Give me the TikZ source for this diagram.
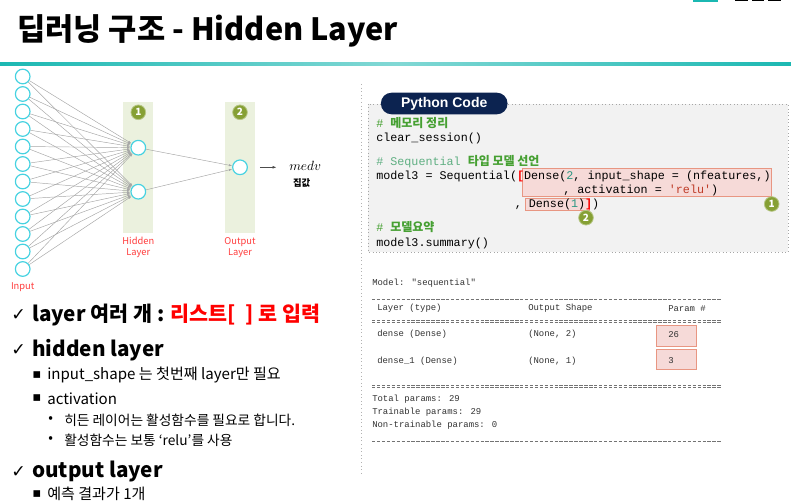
\documentclass[tikz,border=0pt]{standalone}
\usepackage{fontspec}
\setmainfont{Noto Sans CJK KR}
\newfontfamily\codefont{Liberation Mono}[Ligatures=TeXOff]
\newfontfamily\tabfont{Liberation Sans}
\newfontfamily\symfont{DejaVu Sans}
\usetikzlibrary{arrows.meta,positioning}

\definecolor{teal1}{RGB}{27,184,178}
\definecolor{nodecyan}{RGB}{70,210,225}
\definecolor{layerbg}{RGB}{235,241,222}
\definecolor{badge}{RGB}{134,160,52}
\definecolor{lblred}{RGB}{255,60,60}
\definecolor{navy}{RGB}{12,35,80}
\definecolor{codebg}{RGB}{242,242,242}
\definecolor{cmt}{RGB}{70,160,50}
\definecolor{cmtlt}{RGB}{95,175,130}
\definecolor{num}{RGB}{40,150,130}
\definecolor{str}{RGB}{190,60,40}
\definecolor{hlfill}{RGB}{246,218,216}
\definecolor{hlline}{RGB}{232,150,130}
\definecolor{sumgray}{RGB}{50,50,50}
\definecolor{redtxt}{RGB}{255,0,0}

\newcommand{\kc}[1]{{\rmfamily\bfseries\fontsize{9}{10}\selectfont\color{cmt}#1}}

\begin{document}
\begin{tikzpicture}[
  x=0.75pt, y=-0.75pt,
  neuron/.style={circle, draw=nodecyan, fill=white, line width=0.9pt,
    minimum size=11pt, inner sep=0pt},
  layerbox/.style={fill=layerbg, draw=none},
  badgenum/.style={circle, fill=badge, draw=badge!60!white, line width=0.6pt,
    minimum size=11pt, inner sep=0pt, text=white,
    font=\bfseries\fontsize{7.5}{8}\selectfont},
  layerlbl/.style={text=lblred, font=\fontsize{7}{8.5}\selectfont, align=center},
  wire/.style={draw=black!35, line width=0.35pt, -{Latex[length=2.5pt,width=1.6pt]}},
  code/.style={anchor=west, inner sep=0pt, font=\codefont\fontsize{8.8}{10}\selectfont},
  sumline/.style={anchor=west, inner sep=0pt, text=sumgray,
    font=\codefont\fontsize{6.7}{8}\selectfont},
  hlbox/.style={fill=hlfill, draw=hlline, line width=0.6pt},
  dashrule/.style={draw=black!55, line width=0.4pt, dash pattern=on 2.6pt off 1.1pt},
  chk/.style={anchor=west, inner sep=0pt, font=\symfont\fontsize{13}{15}\selectfont},
  head/.style={anchor=west, inner sep=0pt, font=\bfseries\fontsize{15.5}{18}\selectfont},
  sqb/.style={anchor=west, inner sep=0pt, font=\symfont\fontsize{10}{12}\selectfont},
  sub/.style={anchor=west, inner sep=0pt, font=\fontsize{11.3}{13}\selectfont},
  subsub/.style={anchor=west, inner sep=0pt, font=\fontsize{10.3}{12}\selectfont}
]
\useasboundingbox (0,0) rectangle (791,502);

% --- title bar ---
\fill[teal1] (693,0) rectangle (718,1.6);
\fill[black] (735,0) rectangle (748,1.4);
\fill[black] (752,0) rectangle (764,1.4);
\fill[black] (768,0) rectangle (781,1.4);
\node[anchor=west, inner sep=0pt, font=\bfseries\fontsize{23}{26}\selectfont] (title)
  at (17,31) {딥러닝 구조 - Hidden Layer};
\shade[left color=teal1, right color=teal1, middle color=teal1!55] (0,62.8) rectangle (791,65.3);

% --- network ---
\fill[layerbox] (123.3,101.7) rectangle (153.3,232.7);
\fill[layerbox] (225,101.7) rectangle (255,232.7);

\foreach \i in {1,...,12} {
  \node[neuron] (in\i) at (22.7,{76.5+(\i-1)*17.5}) {};
}
\node[neuron] (h1) at (138.3,147.7) {};
\node[neuron] (h2) at (138.3,191.7) {};
\node[neuron] (o) at (240,167.3) {};

\foreach \i in {1,...,12} {
  \foreach \j in {1,2} {
    \draw[wire] (in\i) -- (h\j);
  }
}
\draw[wire] (h1) -- (o);
\draw[wire] (h2) -- (o);

\node[badgenum] (bh) at (138.3,112.3) {1};
\node[badgenum] (bo) at (240,112.3) {2};

\node[layerlbl] (hlbl) at (138.3,247.5) {Hidden\\Layer};
\node[layerlbl] (olbl) at (240,247.5) {Output\\Layer};
\node[layerlbl] (inlbl) at (22.7,287.5) {Input};

\coordinate (arre) at (276.5,167.3);
\draw[black!70, line width=0.5pt, -{Latex[length=3pt,width=2.2pt]}] ([xshift=9pt]o.east) -- (arre);
\node[anchor=west, inner sep=0pt, font=\fontsize{10}{12}\selectfont] (medv) at (289,165.5) {$medv$};
\node[inner sep=0pt, font=\bfseries\fontsize{7}{8}\selectfont] (price) at (301.7,183.3) {집값};

% --- python code ---
\draw[black!30, dotted, line width=0.7pt] (361.5,84) -- (361.5,476);
\draw[fill=codebg, draw=black!35, dotted, line width=0.6pt] (368,104) rectangle (788,252);
\node[fill=navy, rounded corners=8pt, minimum width=95pt, minimum height=16.2pt,
  inner sep=0pt, text=white, font=\tabfont\bfseries\fontsize{10.5}{12}\selectfont]
  (tab) at (444.2,103.5) {Python Code};

\draw[hlbox] (522.7,168.3) rectangle (771,196.7);
\draw[hlbox] (525.7,198.3) rectangle (589.3,210.5);

\node[code] (c1) at (376,122.7) {{\color{cmt}\#} \kc{메모리 정리}};
\node[code] (c2) at (376,138.3) {clear\_session()};
\node[code] (c3) at (376,161.7) {{\color{cmtlt}\# Sequential} \kc{타입 모델 선언}};
\node[code] (c4) at (376,176) {model3 = Sequential(\textcolor{red}{\textbf{[}}Dense(\textcolor{num}{2}, input\_shape = (nfeatures,)};
\node[code] (c5) at (563,190) {, activation = \textcolor{str}{'relu'})};
\node[code] (c6) at (514.5,204) {, Dense(\textcolor{num}{1})\textcolor{red}{\textbf{]}})};
\node[code] (c7) at (376,226.7) {{\color{cmt}\#} \kc{모델요약}};
\node[code] (c8) at (376,243.3) {model3.summary()};

\node[badgenum] (bc1) at (771.7,204) {1};
\node[badgenum] (bc2) at (586,217.7) {2};

% --- model summary ---
\node[sumline] (m0) at (372,283.3) {Model: "sequential"};
\draw[dashrule] (372,299.3) -- (722,299.3);
\node[sumline] (hd1) at (377,308.3) {Layer (type)};
\node[sumline] (hd2) at (528,308.3) {Output Shape};
\node[sumline] (hd3) at (668,308.3) {Param \#};
\draw[dashrule] (372,319.8) -- (722,319.8);
\draw[dashrule] (372,321.8) -- (722,321.8);

\draw[hlbox] (656.7,325.3) rectangle (696.7,346);
\draw[hlbox] (656.7,349.3) rectangle (696.7,369.3);

\node[sumline] (r1a) at (377,334.3) {dense (Dense)};
\node[sumline] (r1b) at (528,334.3) {(None, 2)};
\node[sumline] (r1c) at (668,334.3) {26};
\node[sumline] (r2a) at (377,360.7) {dense\_1 (Dense)};
\node[sumline] (r2b) at (528,360.7) {(None, 1)};
\node[sumline] (r2c) at (668,360.7) {3};

\draw[dashrule] (372,385.2) -- (722,385.2);
\draw[dashrule] (372,387.2) -- (722,387.2);
\node[sumline] (t1) at (372,399) {Total params: 29};
\node[sumline] (t2) at (372,412) {Trainable params: 29};
\node[sumline] (t3) at (372,425) {Non-trainable params: 0};
\draw[dashrule] (372,441.7) -- (722,441.7);

% --- notes ---
\node[chk] (k1) at (11,315) {✓};
\node[head] (l1) at (32,315) {layer 여러 개 : \textcolor{redtxt}{리스트[~~] 로 입력}};
\node[chk] (k2) at (11,350) {✓};
\node[head] (l2) at (32,350) {hidden layer};
\node[sqb] (q1) at (32,375) {▪};
\node[sub] (s1) at (47,375) {input\_shape 는 첫번째 layer만 필요};
\node[sqb] (q2) at (32,398.3) {▪};
\node[sub] (s2) at (47,398.3) {activation};
\node[subsub] (d1) at (48,420) {•};
\node[subsub] (ss1) at (64,420) {히든 레이어는 활성함수를 필요로 합니다.};
\node[subsub] (d2) at (48,440) {•};
\node[subsub] (ss2) at (64,440) {활성함수는 보통 ‘relu’를 사용};
\node[chk] (k3) at (11,471.7) {✓};
\node[head] (l3) at (32,471.7) {output layer};
\node[sqb] (q3) at (32,494) {▪};
\node[sub] (s3) at (47,494) {예측 결과가 1개};
\end{tikzpicture}
\end{document}
